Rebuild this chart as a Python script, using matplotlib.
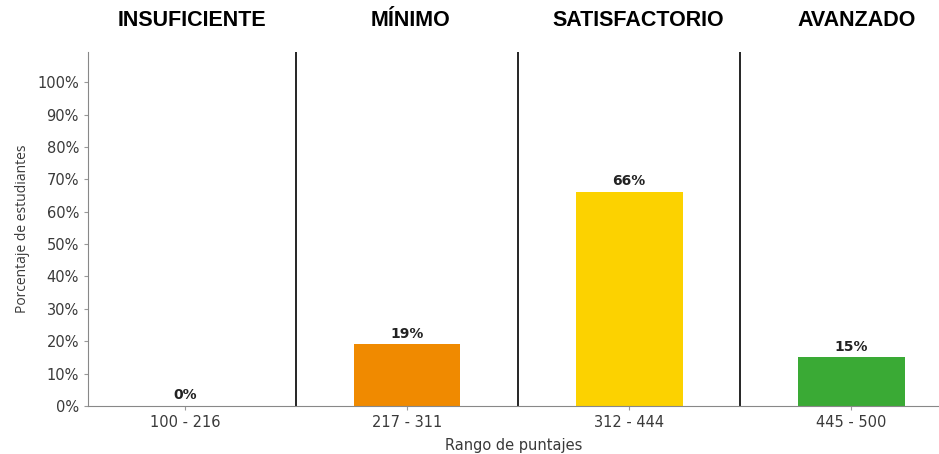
import matplotlib
matplotlib.use("Agg")
from matplotlib import pyplot as plt

rangos = ["100 - 216", "217 - 311", "312 - 444", "445 - 500"]
niveles = ["INSUFICIENTE", "MÍNIMO", "SATISFACTORIO", "AVANZADO"]
porcentajes = [0, 19, 66, 15]
colores = ["#e0e0e0", "#f08a00", "#fcd200", "#3aaa35"]
yticks = [0, 10, 20, 30, 40, 50, 60, 70, 80, 90, 100]

fig = plt.figure(figsize=(9.39, 4.54), dpi=100)
ax = fig.add_axes([88 / 939, 48 / 454, 851 / 939, 354 / 454])

x = list(range(len(rangos)))
ax.bar(x, porcentajes, width=0.48, color=colores)

for xi, p in zip(x, porcentajes):
    ax.text(xi, p + 1.2, f"{p}%", ha="center", va="bottom",
            fontsize=10, fontweight="bold", color="#222222", family="DejaVu Sans")

# lineas separadoras entre niveles
for xi in [0.5, 1.5, 2.5]:
    ax.axvline(xi, color="black", linewidth=1.2)

ax.set_xlim(-0.437, 3.395)
ax.set_ylim(0, 109.3)
ax.set_xticks(x)
ax.set_xticklabels(rangos, fontsize=10.5, color="#3a3a3a", family="DejaVu Sans")
ax.set_yticks(yticks)
ax.set_yticklabels([f"{t}%" for t in yticks], fontsize=10.5, color="#3a3a3a", family="DejaVu Sans")
ax.tick_params(axis="both", length=3, color="#999999")

for s in ["top", "right"]:
    ax.spines[s].set_visible(False)
for s in ["left", "bottom"]:
    ax.spines[s].set_color("#888888")

ax.set_ylabel("Porcentaje de estudiantes", fontsize=10, color="#3a3a3a", family="Open Sans", labelpad=5)
ax.set_xlabel("Rango de puntajes", fontsize=10.5, color="#3a3a3a", family="DejaVu Sans", labelpad=6)

for xi, nivel in zip([192, 411, 638, 857], niveles):
    fig.text(xi / 939, 1 - 21 / 454, nivel, ha="center", va="center",
             fontsize=15.5, fontweight="bold", family="Liberation Sans")

fig.savefig("out.png", dpi=100)
